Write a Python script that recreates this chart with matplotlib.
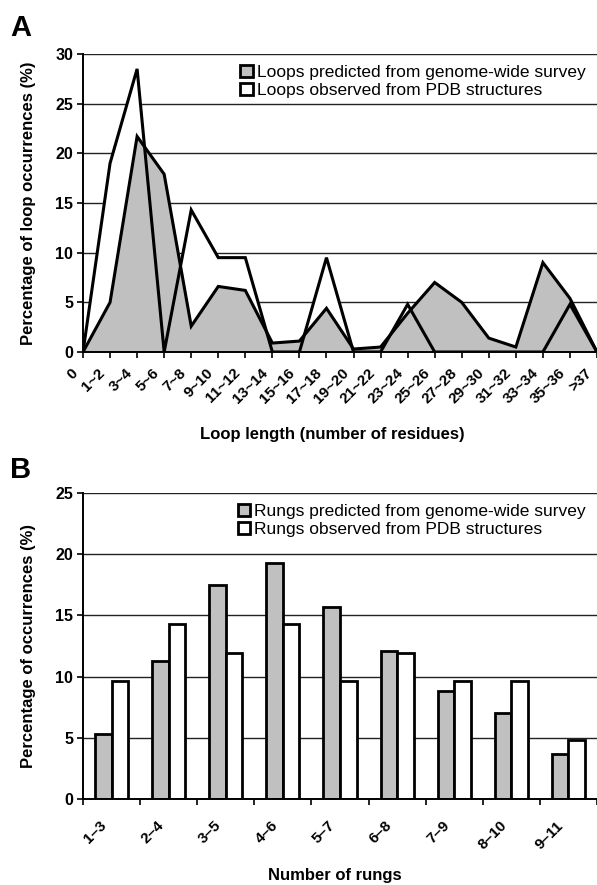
import matplotlib
matplotlib.use("Agg")
import matplotlib.pyplot as plt
import matplotlib.transforms as mtransforms
from matplotlib.patches import Patch
import numpy as np

plt.rcParams['font.family'] = ['Liberation Sans', 'DejaVu Sans']

# panel A: loop length distribution
loop_labels = ['0', '1~2', '3~4', '5~6', '7~8', '9~10', '11~12', '13~14', '15~16', '17~18',
               '19~20', '21~22', '23~24', '25~26', '27~28', '29~30', '31~32', '33~34', '35~36', '>37']
loop_predicted = [0, 5.0, 21.7, 17.9, 2.6, 6.6, 6.2, 0.9, 1.1, 4.4,
                  0.3, 0.5, 3.9, 7.0, 5.0, 1.4, 0.5, 9.0, 5.4, 0]
loop_observed = [0, 19.0, 28.5, 0, 14.3, 9.5, 9.5, 0, 0, 9.5,
                 0, 0, 4.8, 0, 0, 0, 0, 0, 4.8, 0]

# panel B: number of rungs
rung_labels = ['1–3', '2–4', '3–5', '4–6', '5–7', '6–8', '7–9', '8–10', '9–11']
rung_predicted = [5.3, 11.3, 17.5, 19.3, 15.7, 12.1, 8.8, 7.0, 3.7]
rung_observed = [9.6, 14.3, 11.9, 14.3, 9.6, 11.9, 9.6, 9.6, 4.8]

GRAY = '#c0c0c0'
W, H = 597, 885

fig = plt.figure(figsize=(W / 100, H / 100), dpi=100)

def style_axes(ax):
    ax.spines['top'].set_visible(False)
    ax.spines['right'].set_visible(False)
    ax.spines['left'].set_linewidth(1.4)
    ax.spines['bottom'].set_linewidth(1.4)
    ax.yaxis.grid(True, color='#222222', linewidth=1.0)
    ax.set_axisbelow(True)
    ax.tick_params(axis='y', length=4, width=1.2, pad=3, labelsize=11.5)
    for t in ax.get_yticklabels():
        t.set_fontweight('bold')

def add_legend(ax, names):
    ax.legend(handles=[Patch(facecolor=GRAY, edgecolor='black', lw=2),
                       Patch(facecolor='white', edgecolor='black', lw=2)],
              labels=names, loc='upper right', bbox_to_anchor=(1.0, 1.0),
              frameon=False, fontsize=12.5, handlelength=0.7, handleheight=0.7,
              handletextpad=0.25, labelspacing=0.15, borderaxespad=0.25)

# ---------- A ----------
axA = fig.add_axes([83 / W, (H - 352) / H, 1 - 83 / W, 298 / H])
x = np.arange(len(loop_labels))
axA.fill_between(x, loop_observed, color='white', zorder=1)
axA.fill_between(x, loop_predicted, color=GRAY, zorder=2)
axA.plot(x, loop_predicted, color='black', lw=2.2, zorder=3, solid_joinstyle='miter')
axA.plot(x, loop_observed, color='black', lw=2.2, zorder=3, solid_joinstyle='miter')
axA.set_xlim(0, len(loop_labels) - 1)
axA.set_ylim(0, 30)
axA.set_yticks(range(0, 31, 5))
axA.set_xticks(x)
axA.set_xticklabels(loop_labels, rotation=45, ha='right', va='top',
                    rotation_mode='anchor', fontsize=11, fontweight='bold')
axA.tick_params(axis='x', length=4, width=1.2, pad=6)
style_axes(axA)
axA.set_ylabel('Percentage of loop occurrences (%)', fontsize=12, fontweight='bold', labelpad=14)
axA.set_xlabel('Loop length (number of residues)', fontsize=12, fontweight='bold')
axA.xaxis.set_label_coords(0.485, -0.25)
offA = mtransforms.ScaledTranslation(-0.12, 0, fig.dpi_scale_trans)
for t in axA.get_xticklabels():
    t.set_transform(t.get_transform() + offA)
add_legend(axA, ['Loops predicted from genome-wide survey',
                 'Loops observed from PDB structures'])

# ---------- B ----------
axB = fig.add_axes([83 / W, (H - 799) / H, 1 - 83 / W, 306 / H])
xb = np.arange(len(rung_labels)) + 0.5
bw = 0.29
axB.bar(xb - bw / 2, rung_predicted, width=bw, color=GRAY, edgecolor='black', lw=2.0, zorder=2)
axB.bar(xb + bw / 2, rung_observed, width=bw, color='white', edgecolor='black', lw=2.0, zorder=2)
axB.set_xlim(0, len(rung_labels))
axB.set_ylim(0, 25)
axB.set_yticks(range(0, 26, 5))
axB.set_xticks(np.arange(len(rung_labels) + 1))
axB.set_xticklabels([])
axB.set_xticks(xb, minor=True)
axB.set_xticklabels(rung_labels, minor=True, rotation=45, ha='right', va='top',
                    rotation_mode='anchor', fontsize=11, fontweight='bold')
axB.tick_params(axis='x', which='major', length=4, width=1.2)
axB.tick_params(axis='x', which='minor', length=0, pad=14)
style_axes(axB)
axB.set_ylabel('Percentage of occurrences (%)', fontsize=12, fontweight='bold', labelpad=14)
axB.set_xlabel('Number of rungs', fontsize=12, fontweight='bold')
axB.xaxis.set_label_coords(0.49, -0.225)
offB = mtransforms.ScaledTranslation(-0.12, 0, fig.dpi_scale_trans)
for t in axB.get_xticklabels(minor=True):
    t.set_transform(t.get_transform() + offB)
add_legend(axB, ['Rungs predicted from genome-wide survey',
                 'Rungs observed from PDB structures'])

fig.text(10 / W, 1 - 36 / H, 'A', fontsize=21, fontweight='bold')
fig.text(10 / W, 1 - 478 / H, 'B', fontsize=21, fontweight='bold')

fig.savefig('out.png', dpi=100)
